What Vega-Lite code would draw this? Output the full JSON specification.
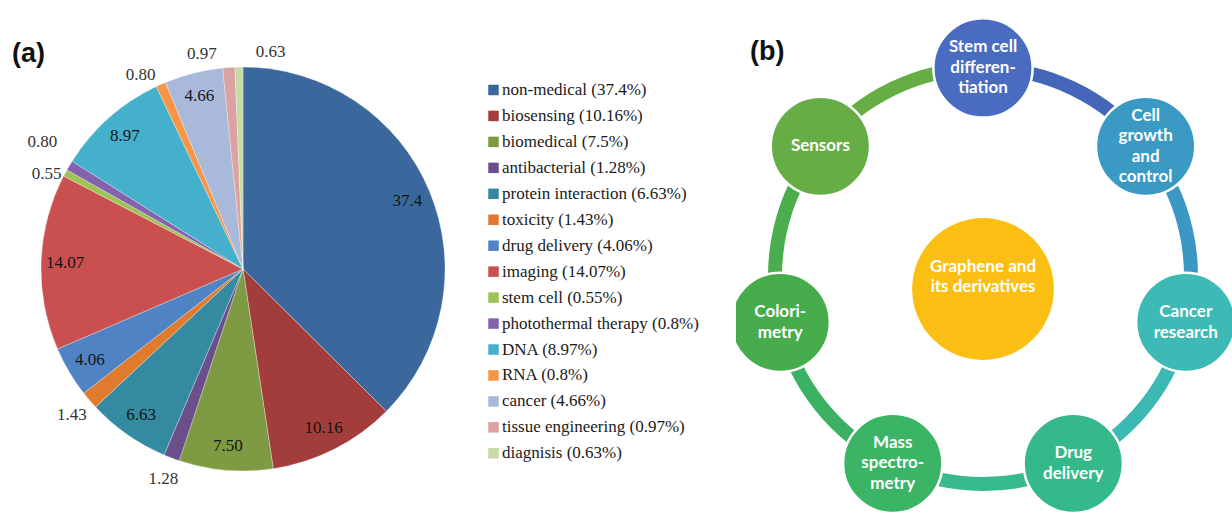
{
  "$schema": "https://vega.github.io/schema/vega-lite/v6.json",
  "padding": 0,
  "background": "white",
  "spacing": 250,
  "bounds": "flush",
  "resolve": {"scale": {"color": "independent", "theta": "independent", "x": "independent", "y": "independent"}, "legend": {"color": "independent"}},
  "config": {"view": {"stroke": null}},
  "datasets": {
    "pie": [
      {"idx": 1, "cat": "non-medical (37.4%)", "value": 37.4, "lab": "37.4"},
      {"idx": 2, "cat": "biosensing (10.16%)", "value": 10.16, "lab": "10.16"},
      {"idx": 3, "cat": "biomedical (7.5%)", "value": 7.5, "lab": "7.50"},
      {"idx": 4, "cat": "antibacterial (1.28%)", "value": 1.28, "lab": "1.28"},
      {"idx": 5, "cat": "protein interaction (6.63%)", "value": 6.63, "lab": "6.63"},
      {"idx": 6, "cat": "toxicity (1.43%)", "value": 1.43, "lab": "1.43"},
      {"idx": 7, "cat": "drug delivery (4.06%)", "value": 4.06, "lab": "4.06"},
      {"idx": 8, "cat": "imaging (14.07%)", "value": 14.07, "lab": "14.07"},
      {"idx": 9, "cat": "stem cell (0.55%)", "value": 0.55, "lab": "0.55"},
      {"idx": 10, "cat": "photothermal therapy (0.8%)", "value": 0.8, "lab": "0.80"},
      {"idx": 11, "cat": "DNA (8.97%)", "value": 8.97, "lab": "8.97"},
      {"idx": 12, "cat": "RNA (0.8%)", "value": 0.8, "lab": "0.80"},
      {"idx": 13, "cat": "cancer (4.66%)", "value": 4.66, "lab": "4.66"},
      {"idx": 14, "cat": "tissue engineering (0.97%)", "value": 0.97, "lab": "0.97"},
      {"idx": 15, "cat": "diagnisis (0.63%)", "value": 0.63, "lab": "0.63"}
    ],
    "ring": [
      {"i": 1, "seg": "Stem cell - Cell growth", "len": 1},
      {"i": 2, "seg": "Cell growth - Cancer", "len": 1},
      {"i": 3, "seg": "Cancer - Drug", "len": 1},
      {"i": 4, "seg": "Drug - Mass", "len": 1},
      {"i": 5, "seg": "Mass - Colorimetry", "len": 1},
      {"i": 6, "seg": "Colorimetry - Sensors", "len": 1},
      {"i": 7, "seg": "Sensors - Stem cell", "len": 1}
    ],
    "nodes": [
      {"i": 1, "node": "Stem cell differentiation", "label": "Stem cell\ndifferen-\ntiation", "x": 0, "y": 1},
      {"i": 2, "node": "Cell growth and control", "label": "Cell\ngrowth\nand\ncontrol", "x": 0.7818, "y": 0.6235},
      {"i": 3, "node": "Cancer research", "label": "Cancer\nresearch", "x": 0.9749, "y": -0.2225},
      {"i": 4, "node": "Drug delivery", "label": "Drug\ndelivery", "x": 0.4339, "y": -0.901},
      {"i": 5, "node": "Mass spectrometry", "label": "Mass\nspectro-\nmetry", "x": -0.4339, "y": -0.901},
      {"i": 6, "node": "Colorimetry", "label": "Colori-\nmetry", "x": -0.9749, "y": -0.2225},
      {"i": 7, "node": "Sensors", "label": "Sensors", "x": -0.7818, "y": 0.6235}
    ],
    "center": [
      {"node": "Graphene and its derivatives", "label": "Graphene and\nits derivatives", "x": 0, "y": -0.0625}
    ]
  },
  "hconcat": [
    {
      "width": 486,
      "height": 517,
      "title": {"text": "(a)", "anchor": "start", "frame": "group", "orient": "top", "offset": -68, "dx": 12, "font": "Liberation Sans", "fontWeight": "bold", "fontSize": 27, "color": "#111111"},
      "data": {"name": "pie"},
      "encoding": {
        "theta": {"field": "value", "type": "quantitative", "stack": true},
        "order": {"field": "idx", "type": "quantitative"}
      },
      "layer": [
        {
          "mark": {"type": "arc", "outerRadius": 202, "yOffset": 10.5, "stroke": "#ffffff", "strokeWidth": 0.3},
          "encoding": {
            "color": {
              "field": "cat", "type": "nominal", "sort": {"field": "idx", "op": "min"},
              "scale": {"range": ["#3b689c", "#a33d3b", "#7e9a43", "#6a4f8a", "#348aa0", "#e07b2e", "#4f83c4", "#c9504f", "#9dc453", "#8462ad", "#44b0cc", "#f79646", "#a9b9da", "#dca1a1", "#c6dca8"]},
              "legend": {"orient": "none", "legendX": 485, "legendY": 81.5, "title": null, "symbolType": "square", "symbolSize": 110, "symbolStrokeWidth": 0, "labelFont": "Liberation Serif", "labelFontSize": 17, "labelColor": "#1a1a1a", "rowPadding": 7.95, "labelOffset": 0, "labelLimit": 400, "padding": 0}
            }
          }
        },
        {
          "mark": {"type": "text", "radius": 178, "yOffset": 10.5, "font": "Liberation Serif", "fontSize": 17, "color": "#141414"},
          "encoding": {"text": {"condition": {"test": "datum.value >= 4", "field": "lab", "type": "nominal"}, "value": ""}}
        },
        {
          "mark": {"type": "text", "radius": 225, "yOffset": 10.5, "font": "Liberation Serif", "fontSize": 17, "color": "#333333"},
          "encoding": {"text": {"condition": {"test": "datum.idx == 4 || datum.idx == 6", "field": "lab", "type": "nominal"}, "value": ""}}
        },
        {
          "mark": {"type": "text", "radius": 222, "yOffset": 10.5, "dx": -1, "dy": 10, "font": "Liberation Serif", "fontSize": 17, "color": "#333333"},
          "encoding": {"text": {"condition": {"test": "datum.idx == 9", "field": "lab", "type": "nominal"}, "value": ""}}
        },
        {
          "mark": {"type": "text", "radius": 222, "yOffset": 10.5, "dx": -10, "dy": -13, "font": "Liberation Serif", "fontSize": 17, "color": "#333333"},
          "encoding": {"text": {"condition": {"test": "datum.idx == 10", "field": "lab", "type": "nominal"}, "value": ""}}
        },
        {
          "mark": {"type": "text", "radius": 215, "yOffset": 10.5, "dx": -15, "dy": 2, "font": "Liberation Serif", "fontSize": 17, "color": "#333333"},
          "encoding": {"text": {"condition": {"test": "datum.idx == 12", "field": "lab", "type": "nominal"}, "value": ""}}
        },
        {
          "mark": {"type": "text", "radius": 215, "yOffset": 10.5, "dx": -26, "dy": -1, "font": "Liberation Serif", "fontSize": 17, "color": "#333333"},
          "encoding": {"text": {"condition": {"test": "datum.idx == 14", "field": "lab", "type": "nominal"}, "value": ""}}
        },
        {
          "mark": {"type": "text", "radius": 215, "yOffset": 10.5, "dx": 32, "dy": -2, "font": "Liberation Serif", "fontSize": 17, "color": "#333333"},
          "encoding": {"text": {"condition": {"test": "datum.idx == 15", "field": "lab", "type": "nominal"}, "value": ""}}
        }
      ]
    },
    {
      "width": 496,
      "height": 517,
      "title": {"text": "(b)", "anchor": "start", "frame": "group", "orient": "top", "offset": -66, "dx": 14, "font": "Liberation Sans", "fontWeight": "bold", "fontSize": 27, "color": "#111111"},
      "resolve": {"scale": {"color": "independent"}},
      "layer": [
        {
          "data": {"name": "ring"},
          "mark": {"type": "arc", "innerRadius": 201, "outerRadius": 215},
          "encoding": {
            "theta": {"field": "len", "type": "quantitative", "stack": true},
            "order": {"field": "i", "type": "quantitative"},
            "color": {"field": "seg", "type": "nominal", "sort": {"field": "i", "op": "min"}, "scale": {"range": ["#4566b8", "#3b98c5", "#3cb9b3", "#36ba8e", "#3db163", "#49ae4b", "#66ad44"]}, "legend": null},
            "x": {"datum": 0, "type": "quantitative", "scale": {"domain": [-1.1875, 1.1971], "nice": false, "zero": false}, "axis": null},
            "y": {"datum": 0, "type": "quantitative", "scale": {"domain": [-1.1587, 1.3269], "nice": false, "zero": false}, "axis": null}
          }
        },
        {
          "data": {"name": "nodes"},
          "mark": {"type": "circle", "size": 9852, "opacity": 1, "stroke": "#ffffff", "strokeWidth": 2.5, "clip": true},
          "encoding": {
            "x": {"field": "x", "type": "quantitative", "scale": {"domain": [-1.1875, 1.1971], "nice": false, "zero": false}, "axis": null},
            "y": {"field": "y", "type": "quantitative", "scale": {"domain": [-1.1587, 1.3269], "nice": false, "zero": false}, "axis": null},
            "color": {"field": "node", "type": "nominal", "sort": {"field": "i", "op": "min"}, "scale": {"range": ["#4a6cc0", "#3a9ac4", "#3dbab5", "#35b98b", "#3cb466", "#47ad4c", "#67ad45"]}, "legend": null}
          }
        },
        {
          "data": {"name": "center"},
          "mark": {"type": "circle", "size": 20106, "opacity": 1, "color": "#fbbf14"},
          "encoding": {
            "x": {"field": "x", "type": "quantitative", "scale": {"domain": [-1.1875, 1.1971], "nice": false, "zero": false}, "axis": null},
            "y": {"field": "y", "type": "quantitative", "scale": {"domain": [-1.1587, 1.3269], "nice": false, "zero": false}, "axis": null}
          }
        },
        {
          "data": {"name": "nodes"},
          "transform": [{"filter": "datum.i == 7"}],
          "mark": {"type": "text", "color": "#ffffff", "font": "Lato", "fontWeight": "bold", "fontSize": 17, "lineBreak": "\n", "lineHeight": 20.5},
          "encoding": {
            "x": {"field": "x", "type": "quantitative", "scale": {"domain": [-1.1875, 1.1971], "nice": false, "zero": false}, "axis": null},
            "y": {"field": "y", "type": "quantitative", "scale": {"domain": [-1.1587, 1.3269], "nice": false, "zero": false}, "axis": null},
            "text": {"field": "label", "type": "nominal"}
          }
        },
        {
          "data": {"name": "nodes"},
          "transform": [{"filter": "datum.i == 3 || datum.i == 4 || datum.i == 6"}],
          "mark": {"type": "text", "color": "#ffffff", "font": "Lato", "fontWeight": "bold", "fontSize": 17, "lineBreak": "\n", "lineHeight": 20.5, "dy": -10.25},
          "encoding": {
            "x": {"field": "x", "type": "quantitative", "scale": {"domain": [-1.1875, 1.1971], "nice": false, "zero": false}, "axis": null},
            "y": {"field": "y", "type": "quantitative", "scale": {"domain": [-1.1587, 1.3269], "nice": false, "zero": false}, "axis": null},
            "text": {"field": "label", "type": "nominal"}
          }
        },
        {
          "data": {"name": "nodes"},
          "transform": [{"filter": "datum.i == 1 || datum.i == 5"}],
          "mark": {"type": "text", "color": "#ffffff", "font": "Lato", "fontWeight": "bold", "fontSize": 17, "lineBreak": "\n", "lineHeight": 20.5, "dy": -20.5},
          "encoding": {
            "x": {"field": "x", "type": "quantitative", "scale": {"domain": [-1.1875, 1.1971], "nice": false, "zero": false}, "axis": null},
            "y": {"field": "y", "type": "quantitative", "scale": {"domain": [-1.1587, 1.3269], "nice": false, "zero": false}, "axis": null},
            "text": {"field": "label", "type": "nominal"}
          }
        },
        {
          "data": {"name": "nodes"},
          "transform": [{"filter": "datum.i == 2"}],
          "mark": {"type": "text", "color": "#ffffff", "font": "Lato", "fontWeight": "bold", "fontSize": 17, "lineBreak": "\n", "lineHeight": 20.5, "dy": -30.75},
          "encoding": {
            "x": {"field": "x", "type": "quantitative", "scale": {"domain": [-1.1875, 1.1971], "nice": false, "zero": false}, "axis": null},
            "y": {"field": "y", "type": "quantitative", "scale": {"domain": [-1.1587, 1.3269], "nice": false, "zero": false}, "axis": null},
            "text": {"field": "label", "type": "nominal"}
          }
        },
        {
          "data": {"name": "center"},
          "mark": {"type": "text", "color": "#ffffff", "font": "Lato", "fontWeight": "bold", "fontSize": 17, "lineBreak": "\n", "lineHeight": 20, "dy": -22},
          "encoding": {
            "x": {"field": "x", "type": "quantitative", "scale": {"domain": [-1.1875, 1.1971], "nice": false, "zero": false}, "axis": null},
            "y": {"field": "y", "type": "quantitative", "scale": {"domain": [-1.1587, 1.3269], "nice": false, "zero": false}, "axis": null},
            "text": {"field": "label", "type": "nominal"}
          }
        }
      ]
    }
  ]
}
